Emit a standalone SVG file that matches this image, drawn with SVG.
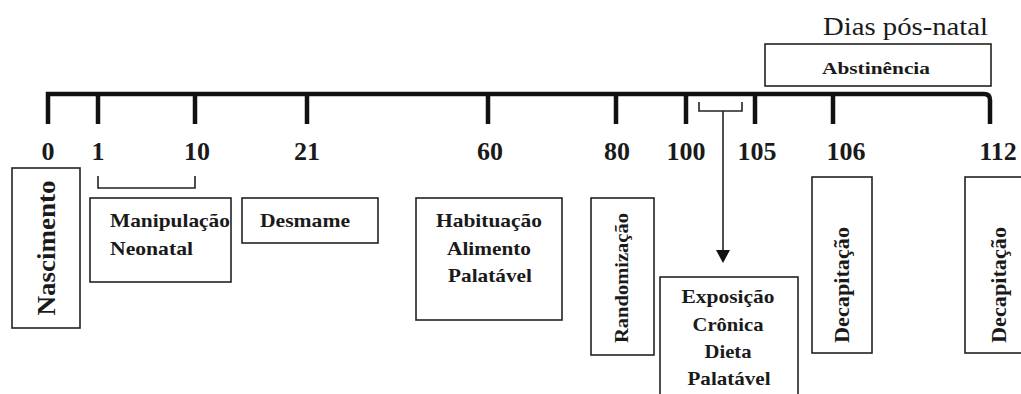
<svg xmlns="http://www.w3.org/2000/svg" width="1021" height="394" viewBox="0 0 1021 394">
<defs>
<style>
.t{font-family:"Liberation Serif","Times New Roman",serif;font-weight:bold;fill:#1a1a1a}
.n{font-size:26px;text-anchor:middle}
.b{font-size:19.5px}
.c{text-anchor:middle}
.box{fill:#fff;stroke:#222;stroke-width:1.6}
.thin{fill:none;stroke:#222;stroke-width:1.6}
.tick{stroke:#111;stroke-width:4.5}
</style>
</defs>
<rect width="1021" height="394" fill="#fff"/>
<g id="title">
<text x="988" y="35" font-family="Liberation Serif, serif" font-size="25" fill="#1a1a1a" text-anchor="end" textLength="165" lengthAdjust="spacingAndGlyphs">Dias pós-natal</text>
</g>
<g id="timeline">
<path d="M48,124 V94 H984 Q990,94 990,100 V124" fill="none" stroke="#111" stroke-width="4.5"/>
<line class="tick" x1="98" y1="94" x2="98" y2="124"/>
<line class="tick" x1="195" y1="94" x2="195" y2="124"/>
<line class="tick" x1="307" y1="94" x2="307" y2="124"/>
<line class="tick" x1="488" y1="94" x2="488" y2="124"/>
<line class="tick" x1="616" y1="94" x2="616" y2="124"/>
<line class="tick" x1="686" y1="94" x2="686" y2="124"/>
<line class="tick" x1="755" y1="94" x2="755" y2="124"/>
<line class="tick" x1="833" y1="94" x2="833" y2="124"/>
<text class="t n" x="48" y="160">0</text>
<text class="t n" x="98" y="160">1</text>
<text class="t n" x="197" y="160">10</text>
<text class="t n" x="307" y="160">21</text>
<text class="t n" x="490" y="160">60</text>
<text class="t n" x="617" y="160">80</text>
<text class="t n" x="686" y="160">100</text>
<text class="t n" x="757" y="160">105</text>
<text class="t n" x="846" y="160">106</text>
<text class="t n" x="998" y="160">112</text>
</g>
<g id="connectors">
<path class="thin" d="M98,176 V188 H195 V176"/>
<path class="thin" d="M699,102 V111 H742 V102"/>
<line x1="723" y1="111" x2="723" y2="251" stroke="#222" stroke-width="1.6"/>
<polygon points="716,250 730,250 723,263" fill="#111"/>
</g>
<g id="abstinencia">
<rect class="box" x="765" y="44" width="226" height="42"/>
<text class="t c" x="876" y="74" font-size="17" textLength="108" lengthAdjust="spacingAndGlyphs">Abstinência</text>
</g>
<g id="nascimento">
<rect class="box" x="12" y="168" width="68" height="160"/>
<text class="t c" font-size="26" transform="translate(55,248) rotate(-90)" textLength="135" lengthAdjust="spacingAndGlyphs">Nascimento</text>
</g>
<g id="manipulacao">
<rect class="box" x="90" y="198" width="141" height="84"/>
<text class="t b" x="110" y="227" textLength="120" lengthAdjust="spacingAndGlyphs">Manipulação</text>
<text class="t b" x="110" y="255" textLength="83" lengthAdjust="spacingAndGlyphs">Neonatal</text>
</g>
<g id="desmame">
<rect class="box" x="242" y="198" width="136" height="45"/>
<text class="t b" x="260" y="227" textLength="90" lengthAdjust="spacingAndGlyphs">Desmame</text>
</g>
<g id="habituacao">
<rect class="box" x="416" y="198" width="146" height="122"/>
<text class="t b c" x="489" y="227" textLength="106" lengthAdjust="spacingAndGlyphs">Habituação</text>
<text class="t b c" x="489" y="255" textLength="84" lengthAdjust="spacingAndGlyphs">Alimento</text>
<text class="t b c" x="490" y="282" textLength="84" lengthAdjust="spacingAndGlyphs">Palatável</text>
</g>
<g id="randomizacao">
<rect class="box" x="591" y="198" width="63" height="157"/>
<text class="t c" font-size="18" transform="translate(628,278) rotate(-90)" textLength="130" lengthAdjust="spacingAndGlyphs">Randomização</text>
</g>
<g id="exposicao">
<rect class="box" x="660" y="277" width="138" height="130"/>
<text class="t b c" x="728" y="303" textLength="93" lengthAdjust="spacingAndGlyphs">Exposição</text>
<text class="t b c" x="728" y="331" textLength="71" lengthAdjust="spacingAndGlyphs">Crônica</text>
<text class="t b c" x="728" y="358" textLength="47" lengthAdjust="spacingAndGlyphs">Dieta</text>
<text class="t b c" x="729" y="385" textLength="83" lengthAdjust="spacingAndGlyphs">Palatável</text>
</g>
<g id="decapitacao106">
<rect class="box" x="812" y="177" width="60" height="176"/>
<text class="t c" font-size="20" transform="translate(849,285) rotate(-90)" textLength="116" lengthAdjust="spacingAndGlyphs">Decapitação</text>
</g>
<g id="decapitacao112">
<rect class="box" x="965" y="177" width="70" height="176"/>
<text class="t c" font-size="20" transform="translate(1006,285) rotate(-90)" textLength="116" lengthAdjust="spacingAndGlyphs">Decapitação</text>
</g>
</svg>
